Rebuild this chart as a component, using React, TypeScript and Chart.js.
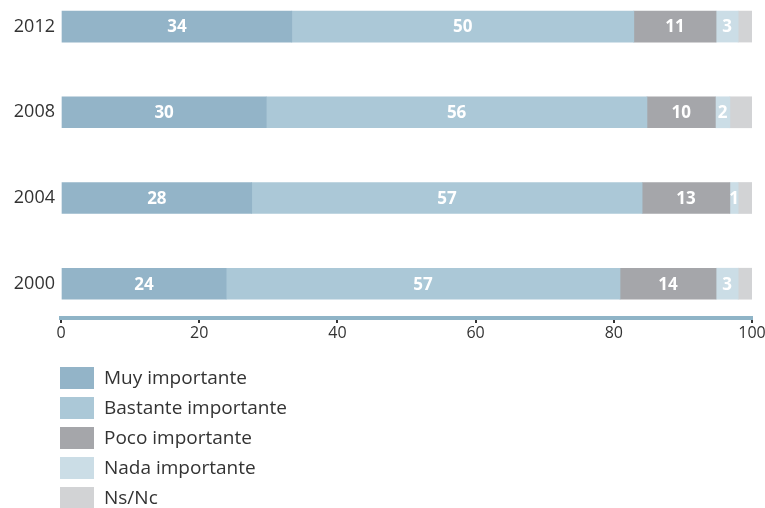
import { useEffect, useRef } from "react";
import { Chart, registerables } from "chart.js";

Chart.register(...registerables);

const years = ["2012", "2008", "2004", "2000"];
const seriesNames = ["Muy importante", "Bastante importante", "Poco importante", "Nada importante", "Ns/Nc"];
const seriesColors = ["#93b4c8", "#abc8d7", "#a5a6aa", "#cbdde6", "#d2d3d5"];

// values (percent) per year, in the order of `years`
const muy = [33.4, 29.7, 27.6, 23.9];
const bastante = [49.5, 55.1, 56.5, 57.0];
const poco = [11.9, 9.9, 12.7, 13.9];
const nada = [3.2, 2.1, 1.2, 3.2];
const nsnc = [2.0, 3.2, 2.0, 2.0];

// printed labels on the bars
const muyLabels = ["34", "30", "28", "24"];
const bastanteLabels = ["50", "56", "57", "57"];
const pocoLabels = ["11", "10", "13", "14"];
const nadaLabels = ["3", "2", "1", "3"];

const xTickValues = [0, 20, 40, 60, 80, 100];

const FONT = "'Open Sans', 'Noto Sans', sans-serif";

const barLabelPlugin = {
  id: "barLabels",
  afterDatasetsDraw(chart: any) {
    const ctx = chart.ctx;
    ctx.save();
    ctx.font = `bold 17px ${FONT}`;
    ctx.fillStyle = "#ffffff";
    ctx.textAlign = "center";
    ctx.textBaseline = "middle";
    chart.data.datasets.forEach((ds: any, di: number) => {
      if (!ds.valueLabels) return;
      const meta = chart.getDatasetMeta(di);
      meta.data.forEach((el: any, i: number) => {
        const p = el.getProps(["x", "y", "base"], true);
        ctx.fillText(ds.valueLabels[i], (p.x + p.base) / 2, p.y + 1);
      });
    });
    ctx.restore();
  },
};

const legendPlugin = {
  id: "sideLegend",
  afterDraw(chart: any) {
    const ctx = chart.ctx;
    ctx.save();
    ctx.font = `19px ${FONT}`;
    ctx.textAlign = "left";
    ctx.textBaseline = "middle";
    chart.data.datasets.forEach((ds: any, i: number) => {
      const top = 367 + 30 * i;
      ctx.fillStyle = ds.backgroundColor;
      ctx.fillRect(60, top, 34, 22);
      ctx.fillStyle = "#333333";
      ctx.fillText(ds.label, 104, top + 12);
    });
    ctx.restore();
  },
};

export default function App() {
  const ref = useRef<HTMLCanvasElement | null>(null);

  useEffect(() => {
    if (!ref.current) return;
    const series = [muy, bastante, poco, nada, nsnc];
    const labelSets = [muyLabels, bastanteLabels, pocoLabels, nadaLabels, null];
    const chart = new Chart(ref.current, {
      type: "bar",
      data: {
        datasets: series.map((vals, si) => ({
          label: seriesNames[si],
          data: vals.map((v, i) => ({ x: v, y: i })),
          backgroundColor: seriesColors[si],
          borderWidth: 0,
          barThickness: 31,
          valueLabels: labelSets[si],
        })) as any,
      },
      options: {
        indexAxis: "y",
        responsive: false,
        animation: false,
        devicePixelRatio: 1,
        layout: { padding: { top: 0, right: 13, bottom: 158, left: 0 } },
        plugins: { legend: { display: false }, tooltip: { enabled: false } },
        scales: {
          x: {
            type: "linear",
            stacked: true,
            min: 0,
            max: 100,
            offset: false,
            afterBuildTicks: (s: any) => {
              s.ticks = xTickValues.map((v) => ({ value: v }));
            },
            ticks: {
              color: "#333333",
              font: { family: FONT, size: 16 },
              padding: 1,
            },
            grid: {
              display: true,
              offset: false,
              drawOnChartArea: false,
              drawTicks: true,
              tickLength: 5,
              color: "#333333",
              lineWidth: 2,
            },
            border: { display: true, color: "#8fb4c7", width: 4 },
            afterFit: (s: any) => {
              s.height = 32;
              s.paddingLeft = 0;
              s.paddingRight = 0;
            },
          },
          y: {
            type: "linear",
            stacked: true,
            reverse: true,
            offset: false,
            min: -0.31,
            max: 3.4,
            afterBuildTicks: (s: any) => {
              s.ticks = years.map((_, i) => ({ value: i }));
              s.min = -0.31;
              s.max = 3.4;
            },
            ticks: {
              color: "#333333",
              font: { family: FONT, size: 18 },
              padding: 6,
              callback: (v: any) => (Number.isInteger(v) && years[v] ? years[v] : null),
            },
            grid: { display: false, offset: false, drawTicks: false, tickLength: 0 },
            border: { display: false },
            afterFit: (s: any) => {
              s.width = 61;
              s.paddingTop = 0;
              s.paddingBottom = 0;
            },
          },
        },
      } as any,
      plugins: [barLabelPlugin, legendPlugin],
    });
    return () => chart.destroy();
  }, []);

  return (
    <div style={{ position: "absolute", left: 0, top: 0, width: 765, height: 508, background: "#ffffff" }}>
      <canvas ref={ref} width={765} height={508} style={{ display: "block" }} />
    </div>
  );
}
